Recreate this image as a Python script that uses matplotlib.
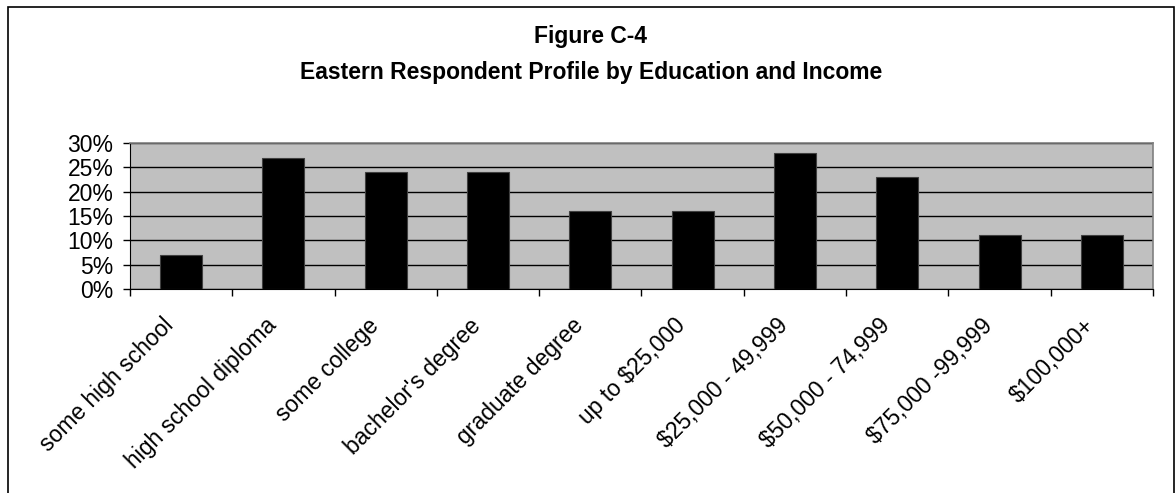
import matplotlib
matplotlib.use("Agg")
import matplotlib.pyplot as plt
from matplotlib.patches import Rectangle
from matplotlib.ticker import FuncFormatter
from matplotlib.transforms import ScaledTranslation
import numpy as np

categories = ["some high school", "high school diploma", "some college",
              "bachelor's degree", "graduate degree", "up to $25,000",
              "$25,000 - 49,999", "$50,000 - 74,999", "$75,000 -99,999",
              "$100,000+"]
values = [7, 27, 24, 24, 16, 16, 28, 23, 11, 11]
yticks = [0, 5, 10, 15, 20, 25, 30]
title1 = "Figure C-4"
title2 = "Eastern Respondent Profile by Education and Income"

plt.rcParams['font.family'] = ['Liberation Sans', 'DejaVu Sans']

W, H = 1175, 493
fig = plt.figure(figsize=(W / 100, H / 100), dpi=100)
fig.patch.set_facecolor("white")

# outer chart border
fig.add_artist(Rectangle((8 / W, -0.01), (1174 - 8) / W, 1 - 7 / H + 0.01,
                         transform=fig.transFigure, fill=False,
                         edgecolor="black", linewidth=1.2))

ax = fig.add_axes([130 / W, 1 - 289 / H, (1153 - 130) / W, (289 - 143) / H])
ax.set_facecolor("#c0c0c0")

x = np.arange(len(categories))
ax.bar(x, values, width=0.41, color="black", edgecolor="#404040", linewidth=0.8, zorder=3)

ax.set_xlim(-0.5, len(categories) - 0.5)
ax.set_ylim(0, 30)
ax.set_yticks(yticks)
ax.yaxis.set_major_formatter(FuncFormatter(lambda v, p: f"{int(v)}%"))
ax.yaxis.grid(True, color="black", linewidth=1.0, zorder=1)
ax.set_axisbelow(True)

# category labels at centers, tick marks at boundaries
ax.set_xticks(x)
ax.set_xticklabels(categories, rotation=45, ha="right", va="top",
                   rotation_mode="anchor")
ax.set_xticks(np.arange(len(categories) + 1) - 0.5, minor=True)
ax.tick_params(axis="x", which="major", length=0, pad=18, labelsize=16.5)
ax.tick_params(axis="x", which="minor", length=5, width=1, color="black")
ax.tick_params(axis="y", length=5, width=1, color="black", pad=7, labelsize=16.5)

offset = ScaledTranslation(-0.19, 0, fig.dpi_scale_trans)
for lbl in ax.get_xticklabels():
    lbl.set_transform(lbl.get_transform() + offset)

for s in ["top", "right"]:
    ax.spines[s].set_color("#808080")
    ax.spines[s].set_linewidth(1.2)
ax.spines["left"].set_color("black")
ax.spines["bottom"].set_color("black")

fig.text(591 / W, 1 - 37 / H, title1, ha="center", va="center",
         fontsize=16.5, fontweight="bold")
fig.text(591 / W, 1 - 72 / H, title2, ha="center", va="center",
         fontsize=16.5, fontweight="bold")

fig.savefig("out.png", dpi=100)
